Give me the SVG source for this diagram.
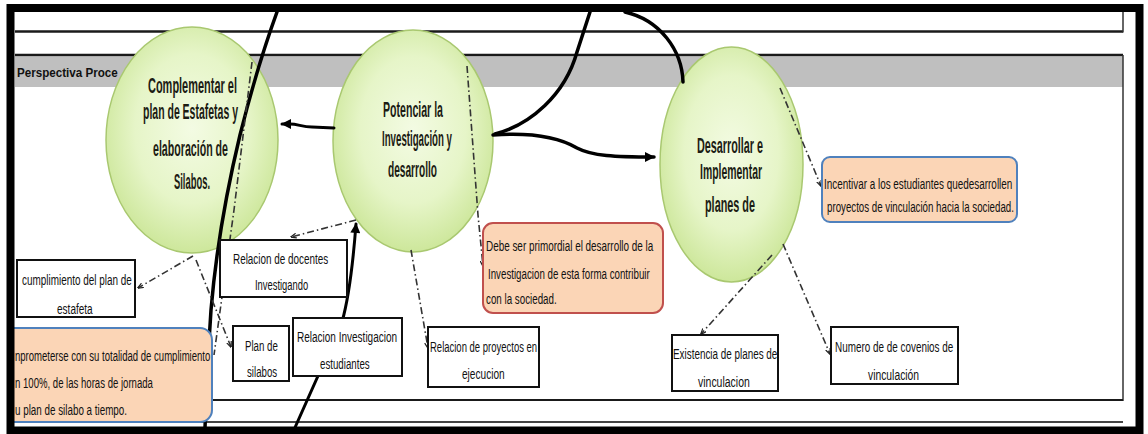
<svg xmlns="http://www.w3.org/2000/svg" width="1148" height="434" viewBox="0 0 1148 434">
<defs>
<radialGradient id="gc" cx="50%" cy="45%" r="55%">
<stop offset="0" stop-color="#f3fbe3"/>
<stop offset="0.6" stop-color="#e6f5c8"/>
<stop offset="1" stop-color="#cde79b"/>
</radialGradient>
<marker id="ah" viewBox="0 0 10 10" refX="9" refY="5" markerWidth="11" markerHeight="10" markerUnits="userSpaceOnUse" orient="auto">
<path d="M0,0 L10,5 L0,10 Z" fill="#000"/>
</marker>
<marker id="as" viewBox="0 0 10 10" refX="9" refY="5" markerWidth="6" markerHeight="6" markerUnits="userSpaceOnUse" orient="auto">
<path d="M0,1 L10,5 L0,9" fill="none" stroke="#222" stroke-width="2"/>
</marker>
<style>
.tl{stroke:#1a1a1a;stroke-width:2.5;fill:none}
.tv{stroke:#333;stroke-width:1.5;fill:none}
.circ{fill:url(#gc);stroke:#a9c870;stroke-width:1.5}
.ct{font-family:"Liberation Sans",Arial,sans-serif;font-weight:bold;font-size:22px;fill:#1c1c14}
.bx{fill:#fff;stroke:#111;stroke-width:2}
.bt{font-family:"Liberation Sans",Arial,sans-serif;font-size:15px;fill:#111}
.on{fill:#fbd5b6;stroke:#4f81bd;stroke-width:2}
.rd{fill:#fbd5b6;stroke:#c0504d;stroke-width:2}
.thk{stroke:#000;stroke-width:3.5;fill:none;stroke-linecap:round}
.dd{stroke:#333;stroke-width:1.6;fill:none;stroke-dasharray:7 3 1.5 3}
</style>
</defs>
<rect x="0" y="0" width="1148" height="434" fill="#fff"/>
<g id="table">
<rect x="15" y="56.5" width="1108" height="30.5" fill="#bfbfbf"/>
<line class="tl" x1="15" y1="31.5" x2="1123" y2="31.5"/>
<line class="tl" x1="15" y1="55" x2="1123" y2="55"/>
<line class="tv" x1="1123" y1="12" x2="1123" y2="32.5"/>
<line class="tv" x1="1123" y1="55" x2="1123" y2="401"/>
<line class="tl" x1="15" y1="400" x2="1123" y2="400" style="stroke-width:2"/>
<line class="tl" x1="15" y1="422" x2="1123" y2="422" style="stroke:#444;stroke-width:2"/>
<text transform="translate(17,77) scale(0.7,1)" font-family="'Liberation Sans', Arial, sans-serif" font-weight="bold" font-size="12" fill="#111" textLength="144" lengthAdjust="spacingAndGlyphs">Perspectiva Proce</text>
</g>
<g id="node-complementar">
<ellipse class="circ" cx="192" cy="140" rx="86" ry="113"/>
<text class="ct" transform="translate(148,93) scale(0.5,1)" textLength="178" lengthAdjust="spacingAndGlyphs">Complementar el</text>
<text class="ct" transform="translate(143,119) scale(0.5,1)" textLength="190" lengthAdjust="spacingAndGlyphs">plan de Estafetas y</text>
<text class="ct" transform="translate(153,156) scale(0.5,1)" textLength="150" lengthAdjust="spacingAndGlyphs">elaboración de</text>
<text class="ct" transform="translate(174,189) scale(0.5,1)" textLength="72" lengthAdjust="spacingAndGlyphs">Silabos.</text>
</g>
<g id="node-potenciar">
<ellipse class="circ" cx="413" cy="141" rx="80" ry="111"/>
<text class="ct" transform="translate(383,117) scale(0.5,1)" textLength="120" lengthAdjust="spacingAndGlyphs">Potenciar la</text>
<text class="ct" transform="translate(382,146) scale(0.5,1)" textLength="140" lengthAdjust="spacingAndGlyphs">Investigación y</text>
<text class="ct" transform="translate(388,177) scale(0.5,1)" textLength="98" lengthAdjust="spacingAndGlyphs">desarrollo</text>
</g>
<g id="node-desarrollar">
<ellipse class="circ" cx="731.5" cy="164.5" rx="71.5" ry="117.5"/>
<text class="ct" transform="translate(697,153) scale(0.5,1)" textLength="132" lengthAdjust="spacingAndGlyphs">Desarrollar e</text>
<text class="ct" transform="translate(700,179) scale(0.5,1)" textLength="124" lengthAdjust="spacingAndGlyphs">Implementar</text>
<text class="ct" transform="translate(705,212) scale(0.5,1)" textLength="100" lengthAdjust="spacingAndGlyphs">planes de</text>
</g>
<g id="connectors">
<path class="thk" d="M277,12 C265,45 250,95 240,135 C228,185 216,250 211,310 C208,350 206,390 205,428"/>
<path class="thk" d="M334,128 L312,127 C302,127 298,124 290,124 L282,124" marker-end="url(#ah)" style="stroke-width:3"/>
<path class="thk" d="M493,135 C535,132 560,138 577,148 C592,156 615,157 654,157" marker-end="url(#ah)"/>
<path class="thk" d="M495,134 C530,125 565,95 577,52 L590,12"/>
<path class="thk" d="M625,12 C660,20 682,50 683,82"/>
<path class="thk" d="M293,432 L342,322 Q351,290 356,224" marker-end="url(#ah)" style="stroke-width:3"/>
<path class="dd" d="M252,62 L234,210 L214,355"/>
<path class="dd" d="M193,256 L138,288" marker-end="url(#as)"/>
<path class="dd" d="M196,260 L231,347" marker-end="url(#as)"/>
<path class="dd" d="M356,220 L291,237" marker-end="url(#as)"/>
<path class="dd" d="M411,250 L428,348" marker-end="url(#as)"/>
<path class="dd" d="M467,66 L478,215 L483,266" marker-end="url(#as)"/>
<path class="dd" d="M780,88 L821,186" marker-end="url(#as)"/>
<path class="dd" d="M772,255 L701,334" marker-end="url(#as)"/>
<path class="dd" d="M783,244 L830,354" marker-end="url(#as)"/>
</g>
<g id="box-cumplimiento">
<rect class="bx" x="17" y="260" width="118" height="57"/>
<text class="bt" transform="translate(22,285) scale(0.7,1)" textLength="157" lengthAdjust="spacingAndGlyphs">cumplimiento del plan de</text>
<text class="bt" transform="translate(57,314) scale(0.7,1)" textLength="51" lengthAdjust="spacingAndGlyphs">estafeta</text>
</g>
<g id="box-docentes">
<rect class="bx" x="220" y="240" width="127" height="57"/>
<text class="bt" transform="translate(233,264) scale(0.7,1)" textLength="136" lengthAdjust="spacingAndGlyphs">Relacion de docentes</text>
<text class="bt" transform="translate(255,290) scale(0.7,1)" textLength="76" lengthAdjust="spacingAndGlyphs">Investigando</text>
</g>
<g id="box-silabos">
<rect class="bx" x="233" y="326" width="56" height="55"/>
<text class="bt" transform="translate(245,351) scale(0.7,1)" textLength="47" lengthAdjust="spacingAndGlyphs">Plan de</text>
<text class="bt" transform="translate(247,377) scale(0.7,1)" textLength="43" lengthAdjust="spacingAndGlyphs">silabos</text>
</g>
<g id="box-investigacion-estudiantes">
<rect class="bx" x="293" y="318" width="109" height="58"/>
<text class="bt" transform="translate(297,342) scale(0.7,1)" textLength="143" lengthAdjust="spacingAndGlyphs">Relacion Investigacion</text>
<text class="bt" transform="translate(320,369) scale(0.7,1)" textLength="71" lengthAdjust="spacingAndGlyphs">estudiantes</text>
</g>
<g id="box-proyectos">
<rect class="bx" x="428" y="327" width="111" height="60"/>
<text class="bt" transform="translate(430,352) scale(0.7,1)" textLength="153" lengthAdjust="spacingAndGlyphs">Relacion de proyectos en</text>
<text class="bt" transform="translate(462,379) scale(0.7,1)" textLength="61" lengthAdjust="spacingAndGlyphs">ejecucion</text>
</g>
<g id="box-existencia">
<rect class="bx" x="672" y="335" width="106" height="56"/>
<text class="bt" transform="translate(673,359) scale(0.7,1)" textLength="149" lengthAdjust="spacingAndGlyphs">Existencia de planes de</text>
<text class="bt" transform="translate(698,387) scale(0.7,1)" textLength="74" lengthAdjust="spacingAndGlyphs">vinculacion</text>
</g>
<g id="box-convenios">
<rect class="bx" x="831" y="327" width="127" height="57"/>
<text class="bt" transform="translate(835,352) scale(0.7,1)" textLength="169" lengthAdjust="spacingAndGlyphs">Numero de  de covenios de</text>
<text class="bt" transform="translate(868,380) scale(0.7,1)" textLength="73" lengthAdjust="spacingAndGlyphs">vinculación</text>
</g>
<g id="note-comprometerse">
<path class="on" d="M12,328 H200 A12,12 0 0 1 212,340 V410 A12,12 0 0 1 200,422 H12 Z"/>
<text class="bt" transform="translate(15,361) scale(0.7,1)" textLength="279" lengthAdjust="spacingAndGlyphs">nprometerse con su totalidad de cumplimiento</text>
<text class="bt" transform="translate(15,388) scale(0.7,1)" textLength="197" lengthAdjust="spacingAndGlyphs">n 100%, de las horas de jornada</text>
<text class="bt" transform="translate(15,415) scale(0.7,1)" textLength="160" lengthAdjust="spacingAndGlyphs">u plan de silabo a tiempo.</text>
</g>
<g id="note-debe">
<rect class="rd" x="483" y="223" width="180" height="90" rx="10"/>
<text class="bt" transform="translate(486,251) scale(0.7,1)" textLength="239" lengthAdjust="spacingAndGlyphs">Debe ser primordial el desarrollo de la</text>
<text class="bt" transform="translate(488,279) scale(0.7,1)" textLength="231" lengthAdjust="spacingAndGlyphs">Investigacion de esta forma contribuir</text>
<text class="bt" transform="translate(486,304) scale(0.7,1)" textLength="101" lengthAdjust="spacingAndGlyphs">con la sociedad.</text>
</g>
<g id="note-incentivar">
<rect class="on" x="822" y="157" width="195" height="65" rx="8"/>
<text class="bt" transform="translate(824,189) scale(0.7,1)" textLength="269" lengthAdjust="spacingAndGlyphs">Incentivar a los estudiantes quedesarrollen</text>
<text class="bt" transform="translate(827,212) scale(0.7,1)" textLength="267" lengthAdjust="spacingAndGlyphs">proyectos de vinculación hacia la sociedad.</text>
</g>
<g id="frame">
<rect x="10.5" y="8" width="1129" height="422.5" fill="none" stroke="#000" stroke-width="8"/>
</g>
</svg>
